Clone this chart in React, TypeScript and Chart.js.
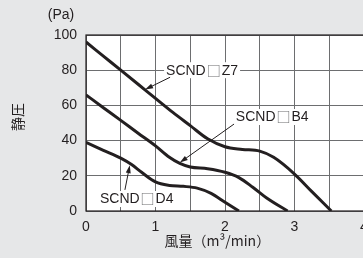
import React, { useEffect, useRef } from 'react';
import { Chart, registerables } from 'chart.js';
Chart.register(...registerables);

const z7X = [0, 0.25, 0.5, 0.75, 1.0, 1.25, 1.5, 1.75, 2.0, 2.25, 2.5, 2.7, 3.0, 3.25, 3.53];
const z7Y = [96, 88, 80, 72, 64, 56, 48.5, 41, 36.5, 35, 34, 30.5, 21, 11, 0];
const b4X = [0, 0.25, 0.5, 0.75, 1.0, 1.2, 1.35, 1.5, 1.75, 2.0, 2.2, 2.4, 2.6, 2.9];
const b4Y = [66, 58.7, 51.5, 44.2, 37, 30.5, 27, 25, 24, 22, 19, 13.5, 7.4, 0];
const d4X = [0, 0.25, 0.5, 0.65, 0.8, 1.0, 1.2, 1.4, 1.6, 1.8, 2.0, 2.2];
const d4Y = [39, 34.5, 30, 26.5, 22, 16.5, 14.5, 14, 13, 10, 5, 0];

const yTicks = [0, 20, 40, 60, 80, 100];
const xTickLabels = ['0', '1', '2', '3', '4'];

const labelPrefix = 'SCND';
const labelBox = '□';
const labelSuffixes = ['Z7', 'B4', 'D4'];
const labelX = [1.67, 2.68, 0.73];
const labelY = [80, 53.4, 6.8];
const arrowFromX = [1.21, 2.13, 0.56];
const arrowFromY = [76, 49.4, 12];
const arrowToX = [0.85, 1.35, 0.63];
const arrowToY = [69, 27.5, 26];

const yTitle = '静圧';
const yUnit = '(Pa)';
const xTitle = '風量（m³/min）';

const FONT = '"Liberation Sans", Arial, "Noto Sans CJK JP", sans-serif';
const CJK = '"Noto Sans CJK JP", "Liberation Sans", sans-serif';
const INK = '#231f20';

const toPts = (xs: number[], ys: number[]) => xs.map((x, i) => ({ x, y: ys[i] }));

const decor = {
  id: 'decor',
  beforeDraw(chart: any) {
    const { ctx, chartArea: a } = chart;
    ctx.save();
    ctx.fillStyle = '#ffffff';
    ctx.fillRect(a.left, a.top, a.right - a.left, a.bottom - a.top);
    ctx.restore();
  },
  afterDatasetsDraw(chart: any) {
    const { ctx } = chart;
    const xs = chart.scales.x;
    const ys = chart.scales.y;
    ctx.save();
    ctx.textAlign = 'left';
    ctx.textBaseline = 'middle';
    labelSuffixes.forEach((suf, i) => {
      const px = xs.getPixelForValue(labelX[i]);
      const py = ys.getPixelForValue(labelY[i]);
      ctx.font = '14px ' + FONT;
      const w1 = ctx.measureText(labelPrefix).width;
      const w3 = ctx.measureText(suf).width;
      ctx.font = '14px ' + CJK;
      const w2 = ctx.measureText(labelBox).width;
      const w = w1 + w2 + w3 + 2;
      const left = px - w / 2;
      ctx.fillStyle = '#ffffff';
      ctx.fillRect(left - 2, py - 8, w + 4, 16);
      ctx.fillStyle = INK;
      ctx.font = '14px ' + FONT;
      ctx.fillText(labelPrefix, left, py + 0.5);
      ctx.font = '14px ' + CJK;
      ctx.fillStyle = '#6d6e70';
      ctx.fillText(labelBox, left + w1 + 1, py);
      ctx.fillStyle = INK;
      ctx.font = '14px ' + FONT;
      ctx.fillText(suf, left + w1 + w2 + 2, py + 0.5);
      const x1 = xs.getPixelForValue(arrowFromX[i]);
      const y1 = ys.getPixelForValue(arrowFromY[i]);
      const x2 = xs.getPixelForValue(arrowToX[i]);
      const y2 = ys.getPixelForValue(arrowToY[i]);
      const ang = Math.atan2(y2 - y1, x2 - x1);
      ctx.strokeStyle = INK;
      ctx.lineWidth = 1;
      ctx.beginPath();
      ctx.moveTo(x1, y1);
      ctx.lineTo(x2 - 6 * Math.cos(ang), y2 - 6 * Math.sin(ang));
      ctx.stroke();
      ctx.beginPath();
      ctx.moveTo(x2, y2);
      ctx.lineTo(x2 - 8 * Math.cos(ang) + 2.5 * Math.sin(ang), y2 - 8 * Math.sin(ang) - 2.5 * Math.cos(ang));
      ctx.lineTo(x2 - 8 * Math.cos(ang) - 2.5 * Math.sin(ang), y2 - 8 * Math.sin(ang) + 2.5 * Math.cos(ang));
      ctx.closePath();
      ctx.fillStyle = INK;
      ctx.fill();
    });
    ctx.restore();
  },
  afterDraw(chart: any) {
    const { ctx, chartArea: a } = chart;
    const xs = chart.scales.x;
    ctx.save();
    ctx.strokeStyle = INK;
    ctx.lineWidth = 1.2;
    ctx.strokeRect(a.left, a.top, a.right - a.left, a.bottom - a.top);
    ctx.fillStyle = INK;
    ctx.textAlign = 'center';
    ctx.textBaseline = 'middle';
    ctx.font = '14px ' + FONT;
    ctx.fillText(yUnit, a.left - 25, a.top - 20);
    ctx.font = '14px ' + CJK;
    ctx.fillText(xTitle, xs.getPixelForValue(1.89), a.bottom + 30);
    ctx.translate(18, (a.top + a.bottom) / 2 - 6);
    ctx.rotate(-Math.PI / 2);
    ctx.fillText(yTitle, 0, 0);
    ctx.restore();
  },
};

export default function App() {
  const ref = useRef<HTMLCanvasElement>(null);
  useEffect(() => {
    if (!ref.current) return;
    const ds = (xs: number[], ys: number[]) => ({
      data: toPts(xs, ys),
      showLine: true,
      borderColor: INK,
      borderWidth: 3,
      pointRadius: 0,
      fill: false,
      cubicInterpolationMode: 'monotone' as const,
    });
    const chart = new Chart(ref.current, {
      type: 'scatter',
      data: { datasets: [ds(z7X, z7Y), ds(b4X, b4Y), ds(d4X, d4Y)] },
      plugins: [decor],
      options: {
        animation: false,
        responsive: false,
        maintainAspectRatio: false,
        layout: { padding: { top: 35, right: 36, left: 0, bottom: 0 } },
        plugins: { legend: { display: false }, tooltip: { enabled: false } },
        scales: {
          x: {
            type: 'linear',
            min: 0,
            max: 4,
            afterFit: (s: any) => { s.height = 47; },
            border: { display: false },
            grid: { color: '#6d6e70', lineWidth: 1, drawTicks: false },
            ticks: {
              stepSize: 0.5,
              padding: 8,
              color: INK,
              font: { family: FONT, size: 14 },
              callback: (v: any) => (Number.isInteger(v) ? xTickLabels[v] : ''),
            },
          },
          y: {
            type: 'linear',
            min: 0,
            max: 100,
            afterFit: (s: any) => { s.width = 86; },
            border: { display: false },
            grid: { color: '#6d6e70', lineWidth: 1, drawTicks: false },
            afterBuildTicks: (s: any) => { s.ticks = yTicks.map((v) => ({ value: v })); },
            ticks: {
              padding: 9,
              color: INK,
              font: { family: FONT, size: 14 },
            },
          },
        },
      },
    });
    return () => chart.destroy();
  }, []);
  return (
    <div style={{ position: 'fixed', left: 0, top: 0, width: 363, height: 258, overflow: 'hidden', background: '#e6e7e8' }}>
      <canvas ref={ref} width={400} height={258} style={{ display: 'block', width: 400, height: 258 }} />
    </div>
  );
}
